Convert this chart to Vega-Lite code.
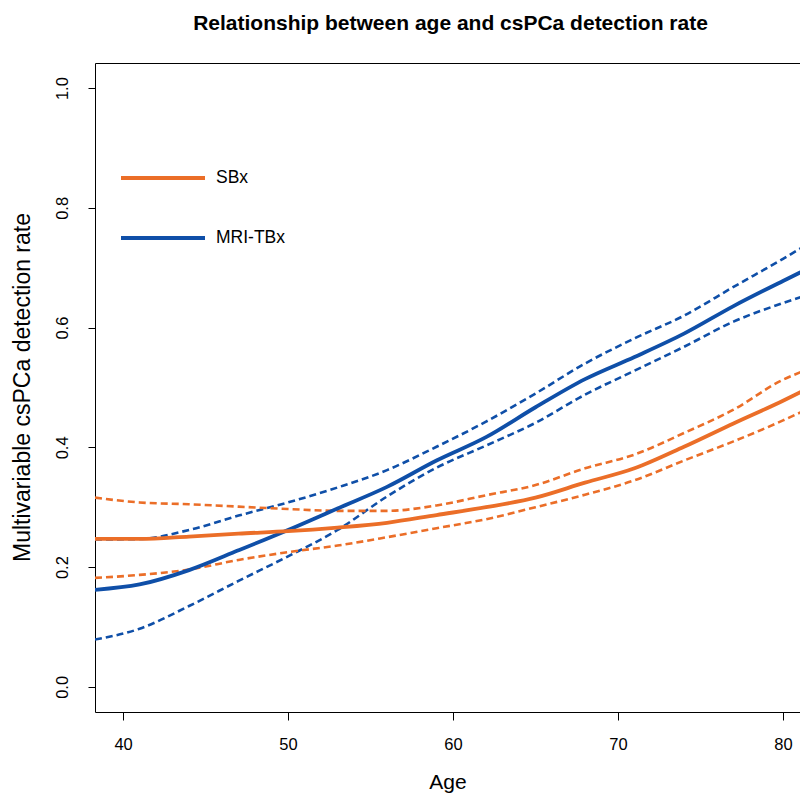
{
  "$schema": "https://vega.github.io/schema/vega-lite/v6.json",
  "width": 705,
  "height": 649,
  "autosize": {"type": "none"},
  "padding": {"left": 95, "top": 63, "right": 0, "bottom": 83},
  "background": "white",
  "title": {
    "text": "Relationship between age and csPCa detection rate",
    "font": "Liberation Sans",
    "fontSize": 21,
    "fontWeight": "bold",
    "color": "black",
    "anchor": "middle",
    "offset": 29,
    "dx": 3
  },
  "config": {
    "view": {"stroke": "black", "strokeWidth": 1},
    "axis": {
      "domain": false,
      "grid": false,
      "tickColor": "black",
      "labelColor": "black",
      "titleColor": "black",
      "labelFont": "Liberation Sans",
      "titleFont": "Liberation Sans",
      "labelFontSize": 16.5,
      "titleFontSize": 21,
      "titleFontWeight": "normal"
    }
  },
  "datasets": {
    "curves": [
      {"age": 38.3, "rate": 0.162, "method": "MRI-TBx", "band": "est"},
      {"age": 41, "rate": 0.171, "method": "MRI-TBx", "band": "est"},
      {"age": 44, "rate": 0.195, "method": "MRI-TBx", "band": "est"},
      {"age": 47, "rate": 0.228, "method": "MRI-TBx", "band": "est"},
      {"age": 50, "rate": 0.262, "method": "MRI-TBx", "band": "est"},
      {"age": 53, "rate": 0.298, "method": "MRI-TBx", "band": "est"},
      {"age": 56, "rate": 0.334, "method": "MRI-TBx", "band": "est"},
      {"age": 59, "rate": 0.378, "method": "MRI-TBx", "band": "est"},
      {"age": 62, "rate": 0.417, "method": "MRI-TBx", "band": "est"},
      {"age": 65, "rate": 0.467, "method": "MRI-TBx", "band": "est"},
      {"age": 68, "rate": 0.514, "method": "MRI-TBx", "band": "est"},
      {"age": 71, "rate": 0.551, "method": "MRI-TBx", "band": "est"},
      {"age": 74, "rate": 0.590, "method": "MRI-TBx", "band": "est"},
      {"age": 77, "rate": 0.636, "method": "MRI-TBx", "band": "est"},
      {"age": 80, "rate": 0.678, "method": "MRI-TBx", "band": "est"},
      {"age": 81.1, "rate": 0.693, "method": "MRI-TBx", "band": "est"},

      {"age": 38.3, "rate": 0.246, "method": "MRI-TBx", "band": "upper"},
      {"age": 41, "rate": 0.247, "method": "MRI-TBx", "band": "upper"},
      {"age": 44, "rate": 0.262, "method": "MRI-TBx", "band": "upper"},
      {"age": 47, "rate": 0.286, "method": "MRI-TBx", "band": "upper"},
      {"age": 50, "rate": 0.308, "method": "MRI-TBx", "band": "upper"},
      {"age": 53, "rate": 0.333, "method": "MRI-TBx", "band": "upper"},
      {"age": 56, "rate": 0.362, "method": "MRI-TBx", "band": "upper"},
      {"age": 59, "rate": 0.401, "method": "MRI-TBx", "band": "upper"},
      {"age": 62, "rate": 0.443, "method": "MRI-TBx", "band": "upper"},
      {"age": 65, "rate": 0.490, "method": "MRI-TBx", "band": "upper"},
      {"age": 68, "rate": 0.540, "method": "MRI-TBx", "band": "upper"},
      {"age": 71, "rate": 0.582, "method": "MRI-TBx", "band": "upper"},
      {"age": 74, "rate": 0.620, "method": "MRI-TBx", "band": "upper"},
      {"age": 77, "rate": 0.668, "method": "MRI-TBx", "band": "upper"},
      {"age": 80, "rate": 0.715, "method": "MRI-TBx", "band": "upper"},
      {"age": 81.1, "rate": 0.733, "method": "MRI-TBx", "band": "upper"},

      {"age": 38.3, "rate": 0.079, "method": "MRI-TBx", "band": "lower"},
      {"age": 41, "rate": 0.097, "method": "MRI-TBx", "band": "lower"},
      {"age": 44, "rate": 0.135, "method": "MRI-TBx", "band": "lower"},
      {"age": 47, "rate": 0.177, "method": "MRI-TBx", "band": "lower"},
      {"age": 50, "rate": 0.218, "method": "MRI-TBx", "band": "lower"},
      {"age": 53, "rate": 0.262, "method": "MRI-TBx", "band": "lower"},
      {"age": 56, "rate": 0.318, "method": "MRI-TBx", "band": "lower"},
      {"age": 59, "rate": 0.366, "method": "MRI-TBx", "band": "lower"},
      {"age": 62, "rate": 0.403, "method": "MRI-TBx", "band": "lower"},
      {"age": 65, "rate": 0.441, "method": "MRI-TBx", "band": "lower"},
      {"age": 68, "rate": 0.488, "method": "MRI-TBx", "band": "lower"},
      {"age": 71, "rate": 0.528, "method": "MRI-TBx", "band": "lower"},
      {"age": 74, "rate": 0.568, "method": "MRI-TBx", "band": "lower"},
      {"age": 77, "rate": 0.610, "method": "MRI-TBx", "band": "lower"},
      {"age": 80, "rate": 0.641, "method": "MRI-TBx", "band": "lower"},
      {"age": 81.1, "rate": 0.651, "method": "MRI-TBx", "band": "lower"},

      {"age": 38.3, "rate": 0.247, "method": "SBx", "band": "est"},
      {"age": 41, "rate": 0.247, "method": "SBx", "band": "est"},
      {"age": 44, "rate": 0.251, "method": "SBx", "band": "est"},
      {"age": 47, "rate": 0.256, "method": "SBx", "band": "est"},
      {"age": 50, "rate": 0.260, "method": "SBx", "band": "est"},
      {"age": 53, "rate": 0.266, "method": "SBx", "band": "est"},
      {"age": 56, "rate": 0.274, "method": "SBx", "band": "est"},
      {"age": 59, "rate": 0.287, "method": "SBx", "band": "est"},
      {"age": 62, "rate": 0.300, "method": "SBx", "band": "est"},
      {"age": 65, "rate": 0.316, "method": "SBx", "band": "est"},
      {"age": 68, "rate": 0.341, "method": "SBx", "band": "est"},
      {"age": 71, "rate": 0.365, "method": "SBx", "band": "est"},
      {"age": 74, "rate": 0.401, "method": "SBx", "band": "est"},
      {"age": 77, "rate": 0.440, "method": "SBx", "band": "est"},
      {"age": 80, "rate": 0.478, "method": "SBx", "band": "est"},
      {"age": 81.1, "rate": 0.493, "method": "SBx", "band": "est"},

      {"age": 38.3, "rate": 0.316, "method": "SBx", "band": "upper"},
      {"age": 41, "rate": 0.308, "method": "SBx", "band": "upper"},
      {"age": 44, "rate": 0.305, "method": "SBx", "band": "upper"},
      {"age": 47, "rate": 0.301, "method": "SBx", "band": "upper"},
      {"age": 50, "rate": 0.297, "method": "SBx", "band": "upper"},
      {"age": 53, "rate": 0.294, "method": "SBx", "band": "upper"},
      {"age": 56, "rate": 0.294, "method": "SBx", "band": "upper"},
      {"age": 59, "rate": 0.303, "method": "SBx", "band": "upper"},
      {"age": 62, "rate": 0.320, "method": "SBx", "band": "upper"},
      {"age": 65, "rate": 0.337, "method": "SBx", "band": "upper"},
      {"age": 68, "rate": 0.365, "method": "SBx", "band": "upper"},
      {"age": 71, "rate": 0.388, "method": "SBx", "band": "upper"},
      {"age": 74, "rate": 0.424, "method": "SBx", "band": "upper"},
      {"age": 77, "rate": 0.463, "method": "SBx", "band": "upper"},
      {"age": 80, "rate": 0.513, "method": "SBx", "band": "upper"},
      {"age": 81.1, "rate": 0.526, "method": "SBx", "band": "upper"},

      {"age": 38.3, "rate": 0.182, "method": "SBx", "band": "lower"},
      {"age": 41, "rate": 0.187, "method": "SBx", "band": "lower"},
      {"age": 44, "rate": 0.196, "method": "SBx", "band": "lower"},
      {"age": 47, "rate": 0.212, "method": "SBx", "band": "lower"},
      {"age": 50, "rate": 0.225, "method": "SBx", "band": "lower"},
      {"age": 53, "rate": 0.236, "method": "SBx", "band": "lower"},
      {"age": 56, "rate": 0.250, "method": "SBx", "band": "lower"},
      {"age": 59, "rate": 0.265, "method": "SBx", "band": "lower"},
      {"age": 62, "rate": 0.280, "method": "SBx", "band": "lower"},
      {"age": 65, "rate": 0.300, "method": "SBx", "band": "lower"},
      {"age": 68, "rate": 0.321, "method": "SBx", "band": "lower"},
      {"age": 71, "rate": 0.345, "method": "SBx", "band": "lower"},
      {"age": 74, "rate": 0.378, "method": "SBx", "band": "lower"},
      {"age": 77, "rate": 0.410, "method": "SBx", "band": "lower"},
      {"age": 80, "rate": 0.445, "method": "SBx", "band": "lower"},
      {"age": 81.1, "rate": 0.459, "method": "SBx", "band": "lower"}
    ]
  },
  "data": {"name": "curves"},
  "encoding": {
    "x": {
      "field": "age",
      "type": "quantitative",
      "scale": {"domain": [38.3, 81.03], "nice": false, "zero": false},
      "axis": {
        "values": [40, 50, 60, 70, 80],
        "title": "Age",
        "tickSize": 8,
        "labelPadding": 16,
        "titleBaseline": "alphabetic",
        "titleAnchor": "middle",
        "titleY": 76
      }
    },
    "y": {
      "field": "rate",
      "type": "quantitative",
      "scale": {"domain": [-0.042, 1.042], "nice": false, "zero": false},
      "axis": {
        "values": [0, 0.2, 0.4, 0.6, 0.8, 1.0],
        "format": ".1f",
        "title": "Multivariable csPCa detection rate",
        "titleFontSize": 23,
        "tickSize": 7,
        "labelAngle": 270,
        "labelAlign": "center",
        "labelBaseline": "alphabetic",
        "labelPadding": 21,
        "titleAngle": 270,
        "titleAlign": "center",
        "titleBaseline": "middle",
        "titleX": -73,
        "titleY": 324
      }
    },
    "color": {
      "field": "method",
      "type": "nominal",
      "scale": {"domain": ["SBx", "MRI-TBx"], "range": ["#EB6E28", "#0F4FA8"]},
      "legend": {
        "title": null,
        "orient": "none",
        "legendX": 24,
        "legendY": 71,
        "direction": "vertical",
        "symbolType": "stroke",
        "symbolSize": 7056,
        "symbolStrokeWidth": 4,
        "symbolDash": [],
        "padding": 0,
        "rowPadding": 7,
        "labelOffset": 9,
        "labelFont": "Liberation Sans",
        "labelFontSize": 17.5,
        "labelColor": "black"
      }
    }
  },
  "layer": [
    {
      "transform": [{"filter": "datum.band !== 'est'"}],
      "mark": {"type": "line", "clip": true, "strokeWidth": 2.6, "strokeDash": [7, 4], "interpolate": "monotone"},
      "encoding": {
        "detail": {"field": "band", "type": "nominal"}
      }
    },
    {
      "transform": [{"filter": "datum.band === 'est'"}],
      "mark": {"type": "line", "clip": true, "strokeWidth": 3.8, "interpolate": "monotone"},
      "encoding": {}
    }
  ]
}
